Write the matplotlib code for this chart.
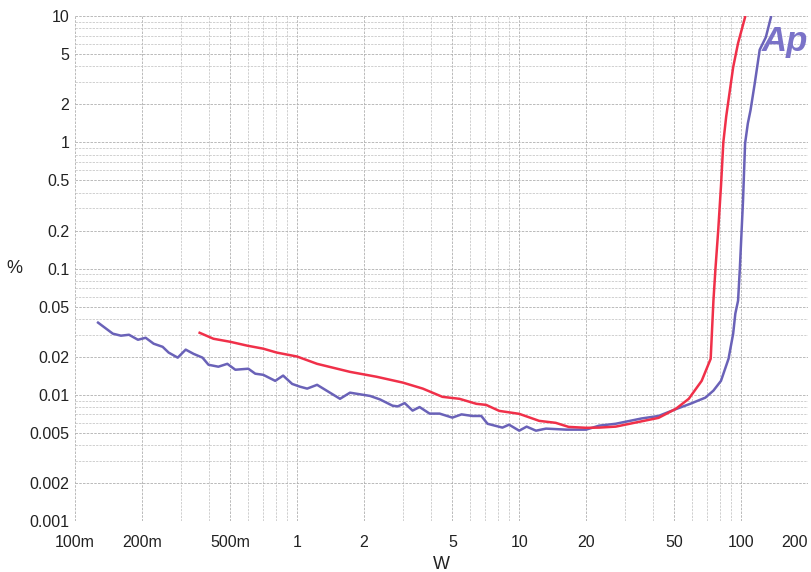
import matplotlib.pyplot as plt
from matplotlib.ticker import FixedLocator, FixedFormatter, LogLocator, NullFormatter

plt.rcParams['font.family'] = ['Liberation Sans', 'DejaVu Sans']

# curva azul (W, %)
azul_w = [0.127, 0.148, 0.161, 0.175, 0.192, 0.208, 0.226, 0.248, 0.264, 0.290,
          0.315, 0.342, 0.375, 0.399, 0.442, 0.485, 0.527, 0.603, 0.648, 0.704,
          0.797, 0.865, 0.950, 1.03, 1.11, 1.23, 1.56, 1.73, 2.13, 2.36, 2.69,
          2.84, 3.05, 3.31, 3.56, 3.95, 4.38, 5.0, 5.5, 6.15, 6.75, 7.2, 8.4,
          9.0, 10.0, 10.8, 11.9, 13.2, 16.3, 20.0, 22.9, 27.2, 35.6, 42.4, 50.7,
          59.0, 68.9, 74.9, 81.0, 87.6, 91.9, 94.0, 96.7, 98.5, 101.8, 104, 107,
          110, 115, 121, 129, 136]
azul_pct = [0.0373, 0.0305, 0.0294, 0.0299, 0.0273, 0.0283, 0.0254, 0.0240, 0.0216, 0.0197,
            0.0228, 0.0211, 0.0197, 0.0173, 0.0167, 0.0176, 0.0158, 0.0161, 0.0147, 0.0144,
            0.0129, 0.0142, 0.0122, 0.0116, 0.0112, 0.0120, 0.0093, 0.0104, 0.0098, 0.0092, 0.0082,
            0.0081, 0.0086, 0.0075, 0.0080, 0.0071, 0.0071, 0.0066, 0.0070, 0.0068, 0.0068, 0.0059, 0.0055,
            0.0058, 0.0052, 0.0056, 0.0052, 0.0054, 0.0053, 0.0053, 0.0057, 0.0059, 0.0065, 0.0068, 0.0077,
            0.0085, 0.0095, 0.0108, 0.0129, 0.0193, 0.0305, 0.044, 0.0557, 0.1, 0.346, 0.98, 1.41,
            1.79, 2.94, 5.4, 6.8, 9.8]

# curva roja (W, %)
rojo_w = [0.364, 0.42, 0.50, 0.597, 0.704, 0.81, 1.0, 1.23, 1.73, 2.28, 2.99, 3.68,
          4.51, 5.38, 6.41, 7.1, 8.13, 10.0, 12.3, 14.6, 16.7, 20.0, 22.9, 27.2,
          42.4, 50.7, 58.0, 66.3, 72.8, 74.9, 76.5, 78.7, 81.0, 83.0, 85.5, 91.9,
          96.7, 104]
rojo_pct = [0.0310, 0.0278, 0.0263, 0.0245, 0.0232, 0.0216, 0.0201, 0.0176, 0.0152, 0.0139, 0.0125, 0.0112,
            0.00964, 0.00930, 0.00849, 0.00832, 0.00746, 0.00707, 0.00622, 0.00600, 0.00557, 0.00548, 0.0055, 0.0056,
            0.00657, 0.00774, 0.0093, 0.0129, 0.0193, 0.0557, 0.1, 0.2, 0.45, 1.0, 1.6, 3.93,
            6.1, 9.8]

x_ticks = [0.1, 0.2, 0.5, 1, 2, 5, 10, 20, 50, 100, 200]
x_labels = ['100m', '200m', '500m', '1', '2', '5', '10', '20', '50', '100', '200']
y_ticks = [0.001, 0.002, 0.005, 0.01, 0.02, 0.05, 0.1, 0.2, 0.5, 1, 2, 5, 10]
y_labels = ['0.001', '0.002', '0.005', '0.01', '0.02', '0.05', '0.1', '0.2', '0.5', '1', '2', '5', '10']

fig = plt.figure(figsize=(8.11, 5.72), dpi=100)
ax = fig.add_axes([0.0925, 0.089, 0.904, 0.883])

ax.plot(azul_w, azul_pct, color='#6a62b8', linewidth=1.8)
ax.plot(rojo_w, rojo_pct, color='#f03049', linewidth=1.8)

ax.set_xscale('log')
ax.set_yscale('log')
ax.set_xlim(0.1, 200)
ax.set_ylim(0.001, 10)

ax.xaxis.set_major_locator(FixedLocator(x_ticks))
ax.xaxis.set_major_formatter(FixedFormatter(x_labels))
ax.yaxis.set_major_locator(FixedLocator(y_ticks))
ax.yaxis.set_major_formatter(FixedFormatter(y_labels))
ax.xaxis.set_minor_locator(LogLocator(base=10, subs=range(1, 10)))
ax.yaxis.set_minor_locator(LogLocator(base=10, subs=range(1, 10)))
ax.xaxis.set_minor_formatter(NullFormatter())
ax.yaxis.set_minor_formatter(NullFormatter())

ax.grid(True, which='major', color='#b0b0b0', linestyle=(0, (3, 1.5)), linewidth=0.6)
ax.grid(True, which='minor', color='#c4c4c4', linestyle=(0, (3, 1.5)), linewidth=0.55)
ax.tick_params(which='both', length=0, colors='#222222')
ax.tick_params(axis='x', labelsize=11.5, pad=10)
ax.tick_params(axis='y', labelsize=11.5, pad=4)
for s in ax.spines.values():
    s.set_visible(False)

# la etiqueta 200 queda dentro del borde
ultima = ax.get_xticklabels()[-1]
ultima.set_horizontalalignment('right')

ax.set_xlabel('W', fontsize=13, color='#222222', labelpad=4)
ax.set_ylabel('%', fontsize=13, color='#222222', rotation=0, va='center')
ax.yaxis.set_label_coords(-0.083, 0.5)

fig.text(0.997, 0.91, 'Ap', fontsize=25, fontweight='bold', fontstyle='italic',
         color='#7a72c8', ha='right')

fig.savefig('out.png', dpi=100)
